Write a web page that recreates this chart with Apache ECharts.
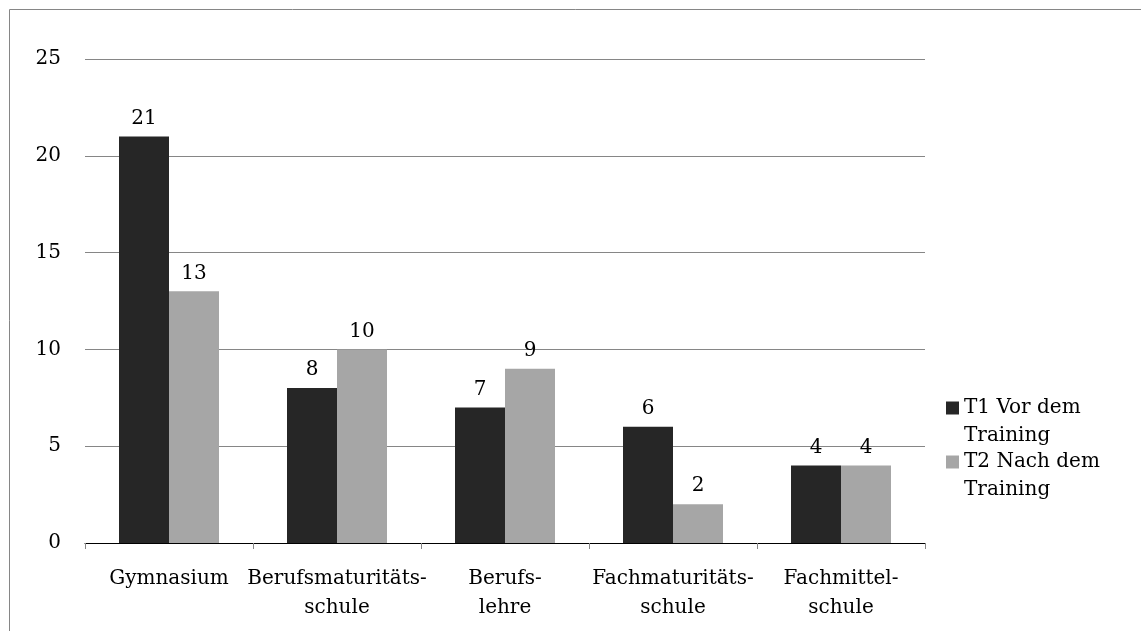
<!DOCTYPE html>
<html>
<head>
<meta charset="utf-8">
<script src="https://cdn.jsdelivr.net/npm/echarts@6/dist/echarts.min.js"></script>
<style>
html,body{margin:0;padding:0;background:#fff;}
#chart{width:1141px;height:631px;}
</style>
</head>
<body>
<div id="chart"></div>
<script>
const categories = ['Gymnasium', 'Berufsmaturitäts-\nschule', 'Berufs-\nlehre', 'Fachmaturitäts-\nschule', 'Fachmittel-\nschule'];
const seriesNames = ['T1 Vor dem\nTraining', 'T2 Nach dem\nTraining'];
const t1Values = [21, 8, 7, 6, 4];
const t2Values = [13, 10, 9, 2, 4];
const yTicks = [0, 5, 10, 15, 20, 25];

const FONT = 'DejaVu Serif';
const FS = 20;
const chart = echarts.init(document.getElementById('chart'));

const legendText = { fontFamily: FONT, fontSize: FS, color: '#000', lineHeight: 28 };
// empty first line so the icon lines up with the first text line
const legendFormatter = n => ' \n' + n;

chart.setOption({
  animation: false,
  graphic: [{
    type: 'rect', z: -1, silent: true,
    shape: { x: 9.5, y: 9.5, width: 1300, height: 800 },
    style: { fill: 'none', stroke: '#868686', lineWidth: 1 }
  }],
  grid: { left: 85, right: 216, top: 59, bottom: 88, containLabel: false },
  legend: [
    { orient: 'vertical', left: 941, top: 408 - 42 - 5, itemWidth: 13, itemHeight: 13,
      icon: 'rect', data: [seriesNames[0]], textStyle: legendText, formatter: legendFormatter, itemGap: 0 },
    { orient: 'vertical', left: 941, top: 462 - 42 - 5, itemWidth: 13, itemHeight: 13,
      icon: 'rect', data: [seriesNames[1]], textStyle: legendText, formatter: legendFormatter, itemGap: 0 }
  ],
  xAxis: {
    type: 'category', data: categories,
    axisLine: { lineStyle: { color: '#000', width: 1 } },
    axisTick: { show: true, length: 6, lineStyle: { color: '#868686' }, alignWithLabel: false },
    axisLabel: { interval: 0, fontFamily: FONT, fontSize: FS, color: '#000', margin: 21, lineHeight: 29 }
  },
  yAxis: {
    type: 'value', min: yTicks[0], max: yTicks[yTicks.length - 1], interval: 5,
    axisLine: { show: false }, axisTick: { show: false },
    splitLine: { lineStyle: { color: '#868686', width: 1 } },
    axisLabel: { fontFamily: FONT, fontSize: FS, color: '#000', margin: 24 }
  },
  series: [
    { name: seriesNames[0], type: 'bar', data: t1Values, barWidth: 50, barGap: '0%',
      itemStyle: { color: '#262626' },
      label: { show: true, position: 'top', distance: 8, fontFamily: FONT, fontSize: FS, color: '#000' } },
    { name: seriesNames[1], type: 'bar', data: t2Values, barWidth: 50, barGap: '0%',
      itemStyle: { color: '#a6a6a6' },
      label: { show: true, position: 'top', distance: 8, fontFamily: FONT, fontSize: FS, color: '#000' } }
  ]
});
</script>
</body>
</html>
